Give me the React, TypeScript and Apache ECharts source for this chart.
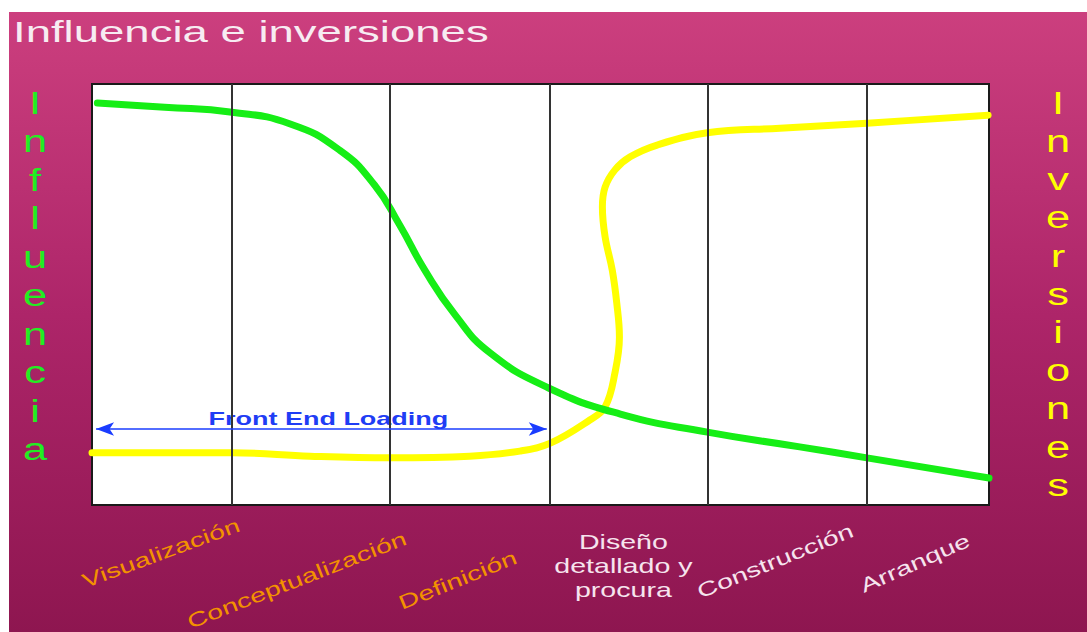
import React, { useEffect, useRef } from "react";
import * as echarts from "echarts";

// ---- data (x: position along project timeline 0-100, y: level 0-100) ----
const phases = [
  "Visualización",
  "Conceptualización",
  "Definición",
  "Diseño\ndetallado y\nprocura",
  "Construcción",
  "Arranque",
];
const phaseBounds = [0, 15.6, 33.2, 51.0, 68.6, 86.4, 100];

const influenceX = [0.6, 8.1, 15.6, 22.1, 27.6, 31.5, 34.3, 37.1, 40.5, 44.4, 50.9, 58.9, 68.6, 78.9, 86.4, 100];
const influenceY = [95.5, 94.5, 93.3, 90.5, 84.3, 76.0, 66.5, 55.8, 45.1, 36.1, 27.8, 21.6, 17.3, 13.8, 11.2, 6.4];

const investX = [0, 7.6, 15.6, 24.3, 33.2, 42.1, 47.7, 51.1, 55.5, 57.2, 58.3, 58.8, 58.5, 58.0, 57.2, 56.9, 57.2, 58.3, 60.0, 63.0, 68.6, 76.7, 86.4, 99.9];
const investY = [12.4, 12.4, 12.4, 11.6, 11.2, 11.6, 12.8, 14.7, 20.2, 23.3, 31.4, 39.9, 48.0, 55.8, 63.7, 70.8, 75.5, 79.6, 82.7, 85.5, 88.4, 89.5, 90.7, 92.6];

const felStart = 0.45;
const felEnd = 50.7;
const felLevel = 18.05;

const titleText = "Influencia e inversiones";
const leftLabel = "Influencia";
const rightLabel = "Inversiones";
const felText = "Front End Loading";

// ---- layout / style (not data) ----
const GRID = { left: 92, top: 84, width: 897, height: 421 };
const FONT = '"Liberation Sans", Arial, sans-serif';
const labelLayout = [
  { dx: -1, y: 553, rot: 0.353, color: "#f39200" },
  { dx: -14, y: 580, rot: 0.372, color: "#f39200" },
  { dx: -12, y: 580, rot: 0.386, color: "#f39200" },
  { dx: -5, y: 566, rot: 0, color: "#f6e4ee" },
  { dx: -12, y: 561, rot: 0.387, color: "#f6e4ee" },
  { dx: -13, y: 563, rot: 0.417, color: "#f6e4ee" },
];

export default function App() {
  const ref = useRef<HTMLDivElement>(null);

  useEffect(() => {
    if (!ref.current) return;
    const chart = echarts.init(ref.current, undefined, { renderer: "svg" });
    const option: any = {
      animation: false,
      backgroundColor: {
        type: "linear",
        x: 0,
        y: 0,
        x2: 0,
        y2: 1,
        colorStops: [
          { offset: 0, color: "#cd407f" },
          { offset: 0.5, color: "#ad2569" },
          { offset: 1, color: "#8e1650" },
        ],
      },
      grid: {
        ...GRID,
        show: true,
        backgroundColor: "#ffffff",
        borderColor: "#1a1a1a",
        borderWidth: 2,
      },
      xAxis: { type: "value", min: 0, max: 100, show: false },
      yAxis: { type: "value", min: 0, max: 100, show: false },
      series: [
        {
          type: "line",
          name: "Influencia",
          data: influenceX.map((x, i) => [x, influenceY[i]]),
          smooth: 0.5,
          showSymbol: false,
          lineStyle: { color: "#16ee16", width: 7, cap: "round", join: "round" },
          z: 3,
          markLine: {
            silent: true,
            symbol: "none",
            label: { show: false },
            lineStyle: { color: "#333333", width: 2, type: "solid" },
            data: phaseBounds.slice(1, -1).map((v) => ({ xAxis: v })),
          },
        },
        {
          type: "line",
          name: "Inversiones",
          data: investX.map((x, i) => [x, investY[i]]),
          smooth: 0.4,
          showSymbol: false,
          lineStyle: { color: "#ffff00", width: 7, cap: "round", join: "round" },
          z: 2,
          markLine: {
            silent: true,
            symbol: ["arrow", "arrow"],
            symbolSize: [10, 18],
            label: { show: false },
            lineStyle: { color: "#1a3cff", width: 1.5, type: "solid" },
            data: [[{ coord: [felStart, felLevel] }, { coord: [felEnd, felLevel] }]],
          },
        },
      ],
    };
    chart.setOption(option);

    const toPx = (x: number, y: number) =>
      chart.convertToPixel({ gridIndex: 0 } as any, [x, y]) as number[];

    const graphics: any[] = [
      { type: "rect", shape: { x: 0, y: 0, width: 1087, height: 12 }, style: { fill: "#ffffff" }, z: 10 },
      { type: "rect", shape: { x: 0, y: 0, width: 9, height: 632 }, style: { fill: "#ffffff" }, z: 10 },
      {
        type: "text",
        x: 13,
        y: 32,
        scaleX: 1.57,
        style: { text: titleText, fontSize: 29, fontFamily: FONT, fill: "#f7ecf2", align: "left", verticalAlign: "middle" },
      },
      {
        type: "text",
        x: 35,
        y: 84,
        scaleX: 1.4,
        style: {
          text: leftLabel.split("").join("\n"),
          fontSize: 31,
          lineHeight: 38.5,
          fontFamily: FONT,
          fill: "#22ee22",
          align: "center",
          verticalAlign: "top",
        },
      },
      {
        type: "text",
        x: 1058,
        y: 84,
        scaleX: 1.4,
        style: {
          text: rightLabel.split("").join("\n"),
          fontSize: 31,
          lineHeight: 38.2,
          fontFamily: FONT,
          fill: "#ffff00",
          align: "center",
          verticalAlign: "top",
        },
      },
    ];

    const felA = toPx(felStart, felLevel);
    const felB = toPx(felEnd, felLevel);
    graphics.push({
      type: "text",
      x: (felA[0] + felB[0]) / 2 + 7,
      y: felA[1] - 11,
      scaleX: 1.42,
      style: {
        text: felText,
        fontSize: 19,
        fontWeight: "bold",
        fontFamily: FONT,
        fill: "#1f3df5",
        align: "center",
        verticalAlign: "middle",
      },
    });

    phases.forEach((p, i) => {
      const mid = (phaseBounds[i] + phaseBounds[i + 1]) / 2;
      const c = toPx(mid, 0);
      const l = labelLayout[i];
      graphics.push({
        type: "text",
        x: c[0] + l.dx,
        y: l.y,
        rotation: l.rot,
        scaleX: 1.43,
        style: {
          text: p,
          fontSize: 20,
          lineHeight: 24,
          fontFamily: FONT,
          fill: l.color,
          align: "center",
          verticalAlign: "middle",
        },
      });
    });

    chart.setOption({ graphic: graphics });

    return () => chart.dispose();
  }, []);

  return (
    <div
      ref={ref}
      style={{ position: "absolute", left: 0, top: 0, width: 1087, height: 632 }}
    />
  );
}
